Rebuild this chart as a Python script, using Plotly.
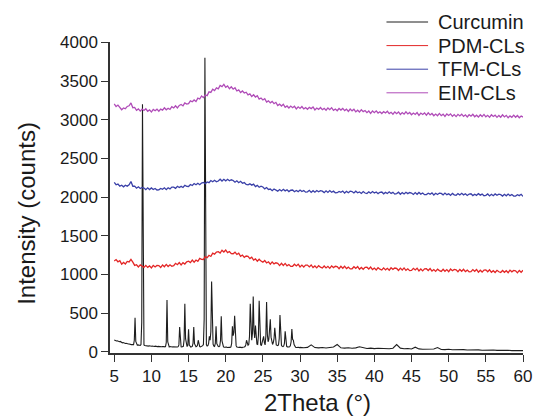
import numpy as np
import plotly.graph_objects as go

# ---------------- data ----------------
series_names = ["Curcumin", "PDM-CLs", "TFM-CLs", "EIM-CLs"]

# sampling grids (2Theta, degrees)
cl_x = np.round(np.arange(5.0, 60.0001, 0.25), 2)           # 221 points
cur_x = np.concatenate([np.round(np.arange(5.0, 30.0001, 0.1), 1),
                        np.arange(30.5, 60.0001, 0.5)])      # 251 + 60 points

curcumin_y = [
    152, 146, 149, 140, 143, 137, 139, 131, 134, 126,
    124, 117, 120, 112, 115, 108, 111, 105, 107, 101,
    102, 96, 99, 93, 95, 90, 94, 150, 440, 135,
    92, 87, 90, 84, 88, 83, 95, 380, 3200, 350,
    90, 82, 79, 84, 77, 80, 74, 78, 73, 76,
    72, 76, 70, 74, 69, 73, 68, 71, 67, 70,
    68, 72, 66, 70, 65, 69, 64, 68, 65, 69,
    120, 670, 130, 70, 64, 68, 63, 67, 62, 66,
    65, 61, 66, 60, 64, 62, 67, 90, 320, 95,
    66, 63, 68, 72, 160, 620, 170, 75, 68, 85,
    290, 88, 66, 62, 67, 70, 110, 320, 105, 70,
    66, 71, 85, 150, 82, 68, 64, 69, 72, 80,
    95, 420, 3800, 400, 90, 75, 80, 110, 200, 150,
    260, 910, 240, 100, 75, 70, 110, 330, 105, 72,
    68, 66, 75, 150, 460, 140, 72, 64, 60, 63,
    58, 62, 57, 61, 56, 60, 58, 64, 110, 330,
    210, 250, 465, 180, 80, 62, 58, 62, 57, 61,
    56, 60, 55, 59, 57, 62, 68, 90, 150, 110,
    85, 95, 200, 620, 260, 150, 240, 715, 280, 180,
    340, 160, 100, 95, 210, 660, 200, 95, 80, 110,
    150, 200, 120, 90, 200, 645, 230, 130, 160, 250,
    420, 190, 110, 95, 120, 170, 310, 150, 90, 85,
    80, 90, 170, 475, 170, 85, 70, 66, 75, 110,
    265, 110, 70, 64, 60, 63, 66, 80, 130, 295,
    160, 150, 95, 68, 60, 56, 59, 54, 58, 53,
    57,
    52, 58, 90, 55, 51, 56, 50, 54, 62, 95, 52, 48, 53, 47, 51, 65, 50, 44, 48, 42,
    46, 41, 45, 40, 47, 95, 48, 39, 43, 37, 60, 38, 34, 37, 32, 36, 55, 31, 29, 33,
    27, 30, 26, 29, 24, 27, 23, 26, 21, 24, 20, 23, 19, 21, 17, 20, 16, 18, 14, 16,
]

pdm_y = [
    1173, 1193, 1164, 1178, 1134, 1156, 1136, 1168,
    1162, 1196, 1160, 1118, 1126, 1097, 1124, 1103,
    1092, 1117, 1092, 1111, 1085, 1118, 1097, 1116,
    1114, 1090, 1123, 1100, 1130, 1103, 1125, 1106,
    1113, 1144, 1126, 1154, 1124, 1153, 1135, 1164,
    1172, 1154, 1186, 1159, 1186, 1169, 1207, 1195,
    1194, 1231, 1217, 1248, 1233, 1275, 1263, 1290,
    1294, 1276, 1314, 1290, 1316, 1282, 1297, 1270,
    1268, 1288, 1259, 1276, 1234, 1251, 1221, 1238,
    1234, 1205, 1224, 1186, 1201, 1172, 1197, 1173,
    1159, 1180, 1149, 1164, 1133, 1162, 1137, 1151,
    1144, 1115, 1144, 1117, 1143, 1111, 1128, 1105,
    1106, 1132, 1110, 1133, 1097, 1121, 1097, 1121,
    1122, 1098, 1123, 1090, 1110, 1085, 1114, 1094,
    1084, 1110, 1085, 1105, 1079, 1111, 1089, 1106,
    1101, 1074, 1105, 1080, 1107, 1076, 1095, 1072,
    1074, 1100, 1079, 1102, 1067, 1091, 1068, 1092,
    1094, 1070, 1096, 1063, 1083, 1058, 1088, 1068,
    1058, 1085, 1060, 1080, 1055, 1087, 1066, 1083,
    1078, 1052, 1082, 1058, 1085, 1054, 1073, 1050,
    1053, 1079, 1058, 1081, 1046, 1071, 1047, 1072,
    1074, 1051, 1076, 1044, 1064, 1040, 1069, 1050,
    1040, 1067, 1042, 1063, 1037, 1070, 1048, 1066,
    1061, 1035, 1065, 1041, 1068, 1038, 1056, 1034,
    1036, 1063, 1041, 1065, 1030, 1055, 1031, 1056,
    1059, 1035, 1061, 1028, 1049, 1025, 1054, 1035,
    1025, 1052, 1028, 1048, 1023, 1056, 1034, 1052,
    1048, 1021, 1052, 1028, 1056,
]

tfm_y = [
    2190, 2160, 2169, 2142, 2154, 2133, 2154, 2142,
    2158, 2202, 2141, 2143, 2115, 2133, 2112, 2125,
    2117, 2097, 2120, 2098, 2119, 2099, 2112, 2092,
    2094, 2112, 2101, 2120, 2096, 2121, 2106, 2129,
    2128, 2113, 2140, 2125, 2139, 2125, 2153, 2139,
    2137, 2163, 2150, 2175, 2160, 2179, 2160, 2182,
    2190, 2173, 2196, 2187, 2214, 2199, 2217, 2199,
    2208, 2231, 2208, 2230, 2210, 2231, 2212, 2224,
    2215, 2192, 2211, 2186, 2204, 2179, 2188, 2163,
    2159, 2172, 2155, 2168, 2136, 2152, 2128, 2142,
    2131, 2107, 2124, 2099, 2104, 2083, 2105, 2085,
    2077, 2098, 2080, 2101, 2081, 2095, 2072, 2089,
    2092, 2069, 2086, 2071, 2092, 2073, 2086, 2064,
    2069, 2088, 2061, 2083, 2064, 2086, 2069, 2083,
    2077, 2058, 2082, 2061, 2084, 2063, 2077, 2056,
    2057, 2074, 2062, 2079, 2052, 2074, 2057, 2076,
    2072, 2053, 2076, 2056, 2066, 2047, 2072, 2053,
    2047, 2068, 2051, 2072, 2053, 2067, 2045, 2062,
    2066, 2043, 2061, 2046, 2068, 2048, 2062, 2039,
    2045, 2063, 2037, 2058, 2040, 2062, 2045, 2059,
    2053, 2034, 2058, 2037, 2060, 2039, 2053, 2032,
    2033, 2050, 2038, 2055, 2028, 2050, 2033, 2052,
    2048, 2029, 2052, 2032, 2042, 2023, 2048, 2029,
    2023, 2045, 2027, 2049, 2029, 2044, 2021, 2039,
    2043, 2020, 2038, 2023, 2045, 2026, 2039, 2017,
    2023, 2041, 2015, 2037, 2018, 2041, 2024, 2038,
    2032, 2014, 2037, 2017, 2040, 2019, 2033, 2013,
    2013, 2031, 2019, 2036, 2009,
]

eim_y = [
    3205, 3170, 3190, 3153, 3130, 3152, 3142, 3172,
    3180, 3217, 3155, 3160, 3123, 3140, 3112, 3138,
    3120, 3142, 3110, 3127, 3100, 3134, 3117, 3137,
    3110, 3137, 3124, 3155, 3129, 3149, 3133, 3168,
    3152, 3181, 3153, 3185, 3197, 3179, 3218, 3204,
    3208, 3244, 3232, 3256, 3235, 3280, 3268, 3307,
    3286, 3321, 3312, 3360, 3353, 3394, 3377, 3411,
    3399, 3443, 3429, 3458, 3420, 3438, 3400, 3426,
    3395, 3413, 3372, 3386, 3351, 3372, 3346, 3356,
    3322, 3335, 3300, 3323, 3294, 3310, 3268, 3281,
    3256, 3272, 3228, 3244, 3218, 3237, 3208, 3225,
    3183, 3202, 3178, 3200, 3161, 3178, 3152, 3177,
    3156, 3174, 3140, 3167, 3146, 3171, 3140, 3157,
    3135, 3160, 3144, 3165, 3127, 3152, 3134, 3158,
    3130, 3147, 3123, 3153, 3130, 3156, 3122, 3139,
    3116, 3145, 3125, 3146, 3118, 3137, 3108, 3138,
    3115, 3135, 3102, 3124, 3101, 3130, 3105, 3119,
    3092, 3113, 3083, 3114, 3092, 3115, 3087, 3103,
    3080, 3105, 3088, 3110, 3079, 3096, 3072, 3101,
    3079, 3101, 3069, 3093, 3072, 3102, 3075, 3094,
    3065, 3086, 3068, 3093, 3057, 3086, 3068, 3088,
    3059, 3089, 3062, 3081, 3052, 3073, 3052, 3082,
    3053, 3072, 3044, 3075, 3055, 3076, 3044, 3066,
    3041, 3070, 3050, 3072, 3043, 3064, 3036, 3065,
    3046, 3070, 3039, 3059, 3035, 3065, 3041, 3069,
    3038, 3057, 3031, 3064, 3042, 3059, 3031, 3056,
    3032, 3063, 3036, 3057, 3025, 3050, 3032, 3059,
    3032, 3055, 3026, 3049, 3034,
]

x_tick_vals = [5, 10, 15, 20, 25, 30, 35, 40, 45, 50, 55, 60]
y_tick_vals = [0, 500, 1000, 1500, 2000, 2500, 3000, 3500, 4000]
x_title = "2Theta (°)"
y_title = "Intensity (counts)"

# ---------------- styling ----------------
colors = ["#1e1e1e", "#e32626", "#3a40a8", "#b04cb8"]
line_widths = [1.1, 1.3, 1.3, 1.3]
FONT = "Liberation Sans, Arial, Helvetica, sans-serif"
TXT = "#1a1a1a"

W, H = 543, 419
L, R, T, B = 110, 11, 42, 66
PW, PH = W - L - R, H - T - B


def pxx(p):
    return (p - L) / PW


def pxy(p):
    return (T + PH - p) / PH


assert len(cl_x) == len(pdm_y) == len(tfm_y) == len(eim_y)
assert len(cur_x) == len(curcumin_y)

xs = [cur_x, cl_x, cl_x, cl_x]
ys = [curcumin_y, pdm_y, tfm_y, eim_y]

fig = go.Figure()
for name, x, y, c, lw in zip(series_names, xs, ys, colors, line_widths):
    fig.add_trace(go.Scatter(x=x, y=y, mode="lines", name=name,
                             line=dict(color=c, width=lw), showlegend=False))

# legend drawn as layout items (line sample + label)
shapes, annotations = [], []
for i, (name, c) in enumerate(zip(series_names, colors)):
    yc = 22 + i * 23.6
    shapes.append(dict(type="line", xref="paper", yref="paper",
                       x0=pxx(392.5), x1=pxx(435), y0=pxy(yc), y1=pxy(yc),
                       line=dict(color=c, width=1)))
    annotations.append(dict(text=name, xref="paper", yref="paper",
                            x=pxx(443), y=pxy(yc), xanchor="left", yanchor="middle",
                            showarrow=False, font=dict(family=FONT, size=20, color=TXT)))

annotations.append(dict(text=y_title, xref="paper", yref="paper",
                        x=pxx(24), y=pxy(213), textangle=-90,
                        xanchor="center", yanchor="middle", showarrow=False,
                        font=dict(family=FONT, size=24, color=TXT)))
annotations.append(dict(text=x_title, xref="paper", yref="paper",
                        x=pxx(322), y=pxy(402), xanchor="center", yanchor="middle",
                        showarrow=False, font=dict(family=FONT, size=24, color=TXT)))

axis_common = dict(showgrid=False, zeroline=False, showline=True,
                   linecolor="#333333", linewidth=1.5, ticks="outside",
                   ticklen=7, tickwidth=1.2, tickcolor="#333333",
                   tickfont=dict(family=FONT, size=17, color=TXT), mirror=False)

fig.update_layout(
    width=W, height=H,
    margin=dict(l=L, r=R, t=T, b=B, pad=0),
    paper_bgcolor="white", plot_bgcolor="white",
    showlegend=False,
    xaxis=dict(range=[4.43, 60.0], tickmode="array", tickvals=x_tick_vals,
               **axis_common),
    yaxis=dict(range=[-15, 4005], tickmode="array", tickvals=y_tick_vals,
               **axis_common),
    shapes=shapes,
    annotations=annotations,
)

fig.write_html(
    "out.html",
    config={"displayModeBar": False},
    post_script="document.body.style.margin='0';document.body.style.overflow='hidden';",
)
